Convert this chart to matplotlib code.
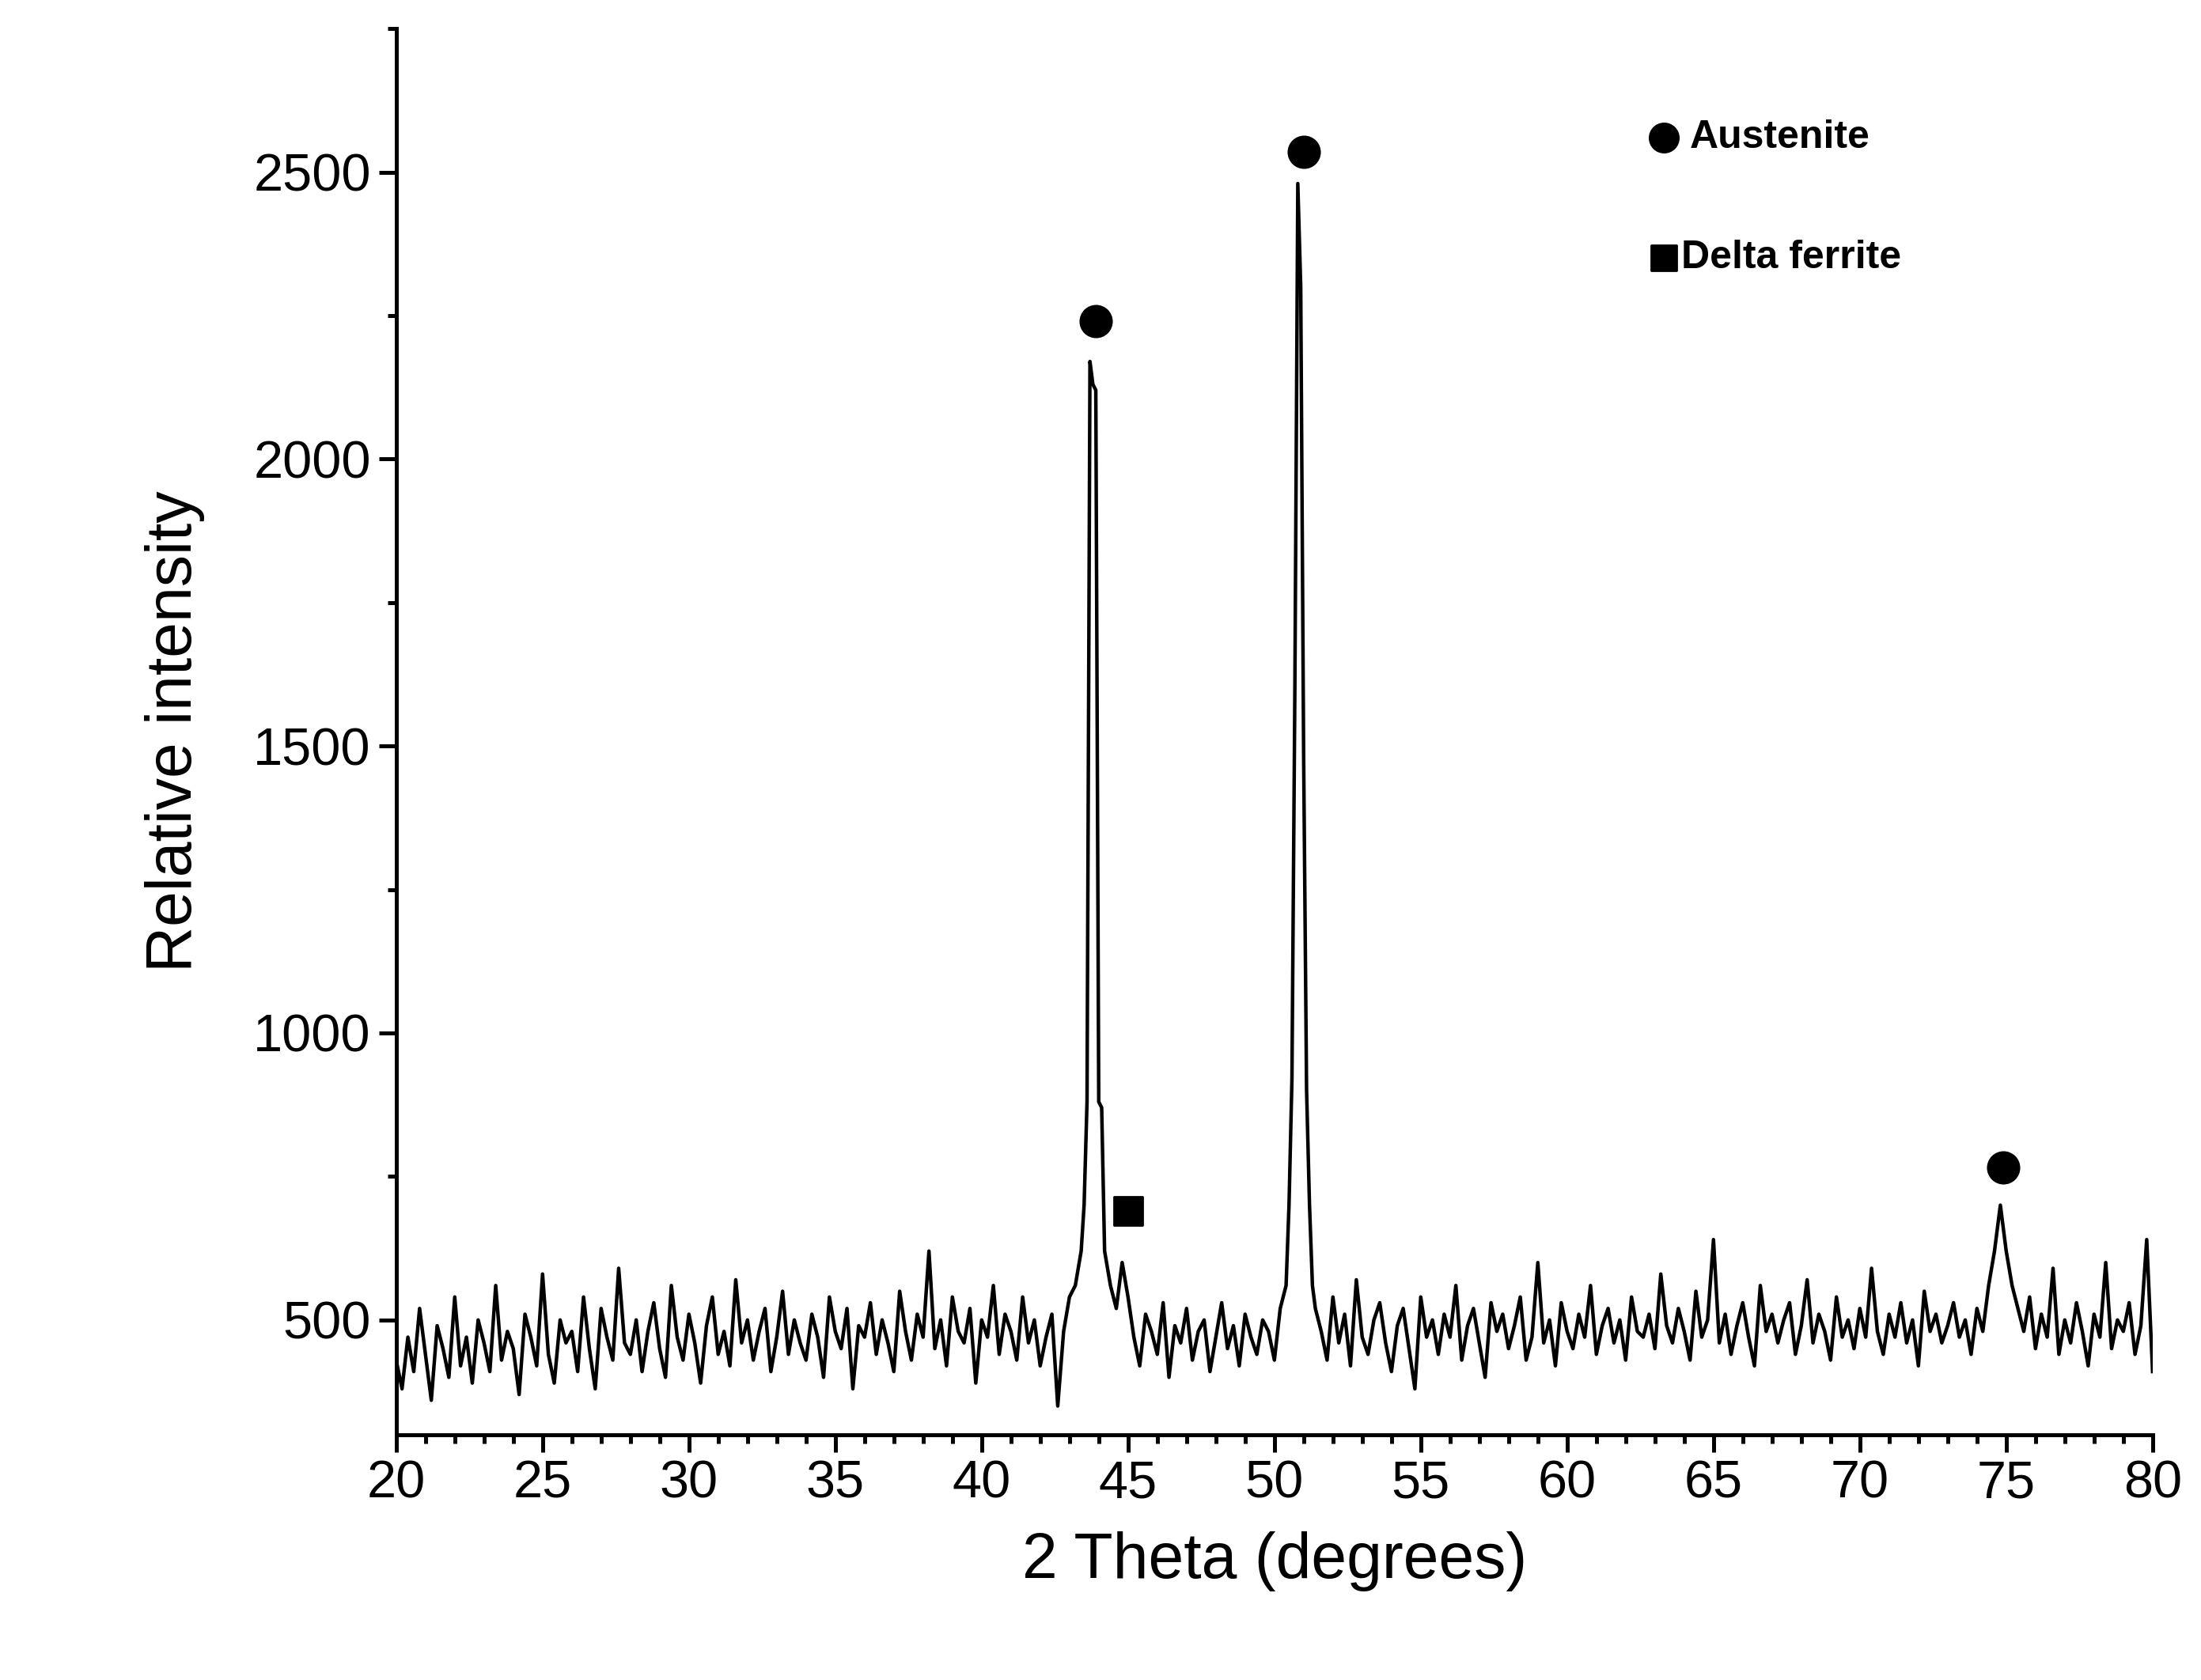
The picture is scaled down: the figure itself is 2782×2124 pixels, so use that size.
import numpy as np
import matplotlib.pyplot as plt
from matplotlib.ticker import MultipleLocator

plt.rcParams['font.family'] = ['Liberation Sans', 'DejaVu Sans']

# baseline segments (2-theta step 0.2) and peak regions
seg_a_y = [430,380,470,410,520,440,360,490,450,400,
           540,420,470,390,500,460,410,560,430,480,
           450,370,510,470,420,580,440,390,500,460,
           480,410,540,450,380,520,470,430,590,460,
           440,500,410,480,530,450,400,560,470,430,
           510,460,390,490,540,440,480,420,570,460,
           500,430,480,520,410,470,550,440,500,460,
           430,510,470,400,540,480,450,520,380,490,
           470,530,440,500,460,410,550,480,430,510,
           470,620,450,500,420,540,480,460,520,390,
           500,470,560,440,510,480,430,540,460,500,
           420,470,510,350,480,540,560,620]
peak1_x = [43.5, 43.6, 43.7, 43.8, 43.9, 44.0, 44.1, 44.2, 44.4, 44.6, 44.8]
peak1_y = [700, 880, 2170, 2130, 2120, 880, 870, 620, 560, 520, 600]
seg_b_y = [540,470,420,510,480,440,530,400,490,460,
           520,430,480,500,410,470,530,450,490,420,
           510,470,440,500,480,430,520,560]
peak2_x = [50.5, 50.6, 50.7, 50.8, 50.9, 51.0, 51.1, 51.2, 51.3, 51.4]
peak2_y = [700, 920, 1600, 2480, 2300, 1480, 900, 700, 560, 520]
seg_c_y = [480,430,540,460,510,420,570,470,440,500,
           530,460,410,490,520,450,380,540,470,500,
           440,510,470,560,430,490,520,460,400,530,
           480,510,450,490,540,430,470,600,460,500,
           420,530,480,450,510,470,560,440,490,520,
           460,500,430,540,480,470,510,450,580,490,
           460,520,480,430,550,470,500,640,460,510,
           440,490,530,470,420,560,480,510,460,500,
           530,440,490,570,460,510,480,430,540,470,
           500,450,520,470,590,480,440,510,470,530,
           460,500,420,550,480,510,460,490,530,470,
           500,440,520,480]
peak3_x = [74.4, 74.6, 74.8, 75.0, 75.2, 75.4]
peak3_y = [560, 620, 700, 620, 560, 520]
seg_d_y = [480,540,450,510,470,590,440,500,460,530,480,420,
           510,470,600,450,500,480,530,440,490,640,410]

austenite_x = [43.9, 51.0, 74.9]
austenite_y = [2240, 2535, 765]
ferrite_x = [45.0]
ferrite_y = [690]

x = np.concatenate([20 + 0.2 * np.arange(len(seg_a_y)), peak1_x,
                    45.0 + 0.2 * np.arange(len(seg_b_y)), peak2_x,
                    51.6 + 0.2 * np.arange(len(seg_c_y)), peak3_x,
                    75.6 + 0.2 * np.arange(len(seg_d_y))])
y = np.concatenate([seg_a_y, peak1_y, seg_b_y, peak2_y, seg_c_y, peak3_y, seg_d_y])

fig = plt.figure(figsize=(13.91, 10.62), dpi=200)
ax = fig.add_axes([0.18, 0.146, 0.798, 0.837])
ax.plot(x, y, color='black', lw=1.6)
ax.scatter(austenite_x, austenite_y, color='black', s=200, marker='o', zorder=3)
ax.scatter(ferrite_x, ferrite_y, color='black', s=160, marker='s', zorder=3)

# in-plot legend
ax.scatter([63.3], [2560], color='black', s=170, marker='o')
ax.text(64.2, 2560, 'Austenite', fontsize=18, fontweight='bold', va='center')
ax.scatter([63.3], [2350], color='black', s=140, marker='s')
ax.text(63.9, 2350, 'Delta ferrite', fontsize=18, fontweight='bold', va='center')

ax.set_xlim(20, 80)
ax.set_ylim(300, 2750)
ax.set_yticks([500, 1000, 1500, 2000, 2500])
ax.xaxis.set_major_locator(MultipleLocator(5))
ax.xaxis.set_minor_locator(MultipleLocator(1))
ax.yaxis.set_minor_locator(MultipleLocator(250))
ax.tick_params(which='both', direction='out', labelsize=24, width=1.8)
ax.tick_params(which='major', length=8)
ax.tick_params(which='minor', length=4)
for s in ['top', 'right']:
    ax.spines[s].set_visible(False)
for s in ['left', 'bottom']:
    ax.spines[s].set_linewidth(1.8)
ax.set_xlabel('2 Theta (degrees)', fontsize=29, labelpad=10)
ax.set_ylabel('Relative intensity', fontsize=29, labelpad=22)

fig.savefig('out.png', dpi=200)
